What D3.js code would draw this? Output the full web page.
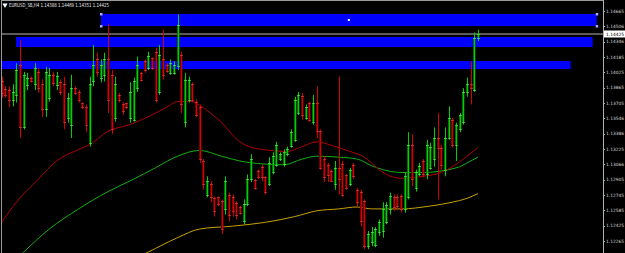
<!DOCTYPE html>
<html lang="en">
<head>
    <meta charset="UTF-8">
    <title>EURUSD_SB,H4</title>
    <script src="https://d3js.org/d3.v7.min.js"></script>
    <style>
        body { margin: 0; background: #000; }
        .axis-label { font-family: "DejaVu Sans", sans-serif; font-size: 4.4px; fill: #d8d8d8; }
        .title { font-family: "DejaVu Sans", sans-serif; font-size: 5.5px; fill: #e8e8e8; }
    </style>
</head>
<body>
    <div id="chart"></div>

    <script>
        // H4 bars (oldest first)
        const opens = [1.1393,1.1385,1.1384,1.1374,1.1379,1.1410,1.1345,1.1389,1.1397,1.1390,1.1403,1.1390,1.1364,1.1376,1.1400,1.1389,1.1392,1.1390,1.1355,1.1348,
            1.1386,1.1382,1.1370,1.1366,1.1329,1.1393,1.1416,1.1397,1.1400,1.1416,1.1400,1.1355,1.1379,1.1369,1.1370,1.1355,1.1353,1.1386,1.1402,1.1414,
            1.1407,1.1417,1.1424,1.1382,1.1416,1.1410,1.1402,1.1402,1.1409,1.1421,1.1351,1.1374,1.1390,1.1372,1.1366,1.1310,1.1275,1.1286,1.1271,1.1272,
            1.1268,1.1260,1.1274,1.1272,1.1266,1.1262,1.1247,1.1265,1.1291,1.1290,1.1300,1.1304,1.1293,1.1286,1.1299,1.1306,1.1312,1.1307,1.1317,1.1326,
            1.1332,1.1360,1.1378,1.1355,1.1370,1.1351,1.1371,1.1341,1.1312,1.1306,1.1300,1.1286,1.1303,1.1307,1.1295,1.1286,1.1306,1.1280,1.1278,1.1268,
            1.1221,1.1225,1.1222,1.1236,1.1237,1.1246,1.1260,1.1272,1.1272,1.1273,1.1260,1.1272,1.1327,1.1282,1.1296,1.1310,1.1296,1.1303,1.1312,1.1334,
            1.1324,1.1301,1.1334,1.1353,1.1327,1.1343,1.1351,1.1382,1.1390,1.1384,1.14388];
        const highs = [1.1398,1.1388,1.1388,1.1390,1.1412,1.1436,1.1403,1.1402,1.1398,1.1412,1.1407,1.1395,1.1408,1.1407,1.1403,1.1403,1.1395,1.1398,1.1381,1.1400,
            1.1388,1.1384,1.1371,1.1369,1.1398,1.1431,1.1423,1.1416,1.1423,1.1453,1.1405,1.1398,1.1381,1.1371,1.1371,1.1392,1.1397,1.1419,1.1403,1.1416,
            1.1424,1.1418,1.1428,1.1431,1.1447,1.1412,1.1416,1.1414,1.1463,1.1424,1.1402,1.1398,1.1392,1.1374,1.1369,1.1312,1.1294,1.1289,1.1273,1.1273,
            1.1270,1.1294,1.1277,1.1275,1.1268,1.1263,1.1270,1.1296,1.1317,1.1291,1.1301,1.1306,1.1294,1.1314,1.1319,1.1330,1.1319,1.1322,1.1325,1.1343,
            1.1377,1.1382,1.1381,1.1369,1.1372,1.1379,1.1388,1.1343,1.1315,1.1308,1.1301,1.1310,1.1398,1.1310,1.1296,1.1303,1.1308,1.1282,1.1280,1.1270,
            1.1237,1.1241,1.1241,1.1249,1.1267,1.1267,1.1277,1.1275,1.1275,1.1275,1.1298,1.1340,1.1338,1.1301,1.1308,1.1312,1.1332,1.1329,1.1345,1.1360,
            1.1327,1.1345,1.1367,1.1355,1.1350,1.1360,1.1386,1.1397,1.1414,1.1444,1.14469];
        const lows = [1.1376,1.1376,1.1366,1.1367,1.1371,1.1334,1.1343,1.1384,1.1392,1.1384,1.1381,1.1356,1.1356,1.1372,1.1388,1.1384,1.1379,1.1343,1.1350,1.1334,
            1.1379,1.1371,1.1364,1.1340,1.1325,1.1388,1.1398,1.1392,1.1393,1.1360,1.1338,1.1351,1.1371,1.1358,1.1364,1.1350,1.1351,1.1382,1.1393,1.1402,
            1.1405,1.1405,1.1371,1.1379,1.1395,1.1402,1.1400,1.1400,1.1405,1.1360,1.1345,1.1371,1.1371,1.1356,1.1308,1.1280,1.1272,1.1267,1.1252,1.1263,
            1.1234,1.1254,1.1247,1.1252,1.1249,1.1254,1.1244,1.1263,1.1288,1.1280,1.1291,1.1289,1.1275,1.1284,1.1296,1.1304,1.1310,1.1304,1.1315,1.1324,
            1.1330,1.1358,1.1353,1.1353,1.1351,1.1348,1.1334,1.1301,1.1288,1.1288,1.1288,1.1280,1.1275,1.1273,1.1280,1.1284,1.1291,1.1263,1.1242,1.1218,
            1.1218,1.1221,1.1220,1.1232,1.1230,1.1244,1.1254,1.1258,1.1260,1.1256,1.1256,1.1270,1.1284,1.1278,1.1294,1.1293,1.1291,1.1301,1.1304,1.1270,
            1.1301,1.1294,1.1332,1.1324,1.1310,1.1340,1.1348,1.1377,1.1369,1.1382,1.14351];
        const closes = [1.1381,1.1379,1.1374,1.1382,1.1405,1.1345,1.1400,1.1397,1.1393,1.1407,1.1386,1.1364,1.1403,1.1400,1.1391,1.1399,1.1382,1.1351,1.1376,1.1386,
            1.1381,1.1374,1.1366,1.1348,1.1390,1.1410,1.1403,1.1410,1.1416,1.1374,1.1343,1.1390,1.1374,1.1362,1.1366,1.1382,1.1393,1.1410,1.1395,1.1405,
            1.1420,1.1407,1.1374,1.1421,1.1400,1.1404,1.1412,1.1410,1.1452,1.1369,1.1395,1.1395,1.1374,1.1358,1.1312,1.1286,1.1289,1.1272,1.1258,1.1265,
            1.1239,1.1289,1.1254,1.1258,1.1254,1.1256,1.1265,1.1291,1.1312,1.1282,1.1293,1.1293,1.1278,1.1308,1.1315,1.1327,1.1317,1.1319,1.1323,1.1340,
            1.1374,1.1379,1.1358,1.1366,1.1353,1.1370,1.1341,1.1303,1.1293,1.1295,1.1289,1.1303,1.1291,1.1275,1.1282,1.1301,1.1294,1.1267,1.1247,1.1221,
            1.1234,1.1236,1.1239,1.1246,1.1260,1.1264,1.1273,1.1262,1.1263,1.1260,1.1294,1.1327,1.1291,1.1299,1.1305,1.1296,1.1327,1.1325,1.1334,1.1324,
            1.1306,1.1334,1.1355,1.1327,1.1348,1.1358,1.1382,1.1390,1.1386,1.1438,1.14425];

        // moving averages, sampled at bar indexes
        const maFastIdx = [0,4,10,15,21,24,29,35,41,45,48,52,54,60,65,71,78,82,86,91,95,99,103,105,109,115,120,123,127,130];
        const maFast = [1.1246,1.1267,1.1291,1.1310,1.1322,1.1327,1.1341,1.1348,1.1358,1.1366,1.1372,1.1372,1.1368,1.1350,1.1330,1.1322,1.1320,1.1325,1.1330,1.1325,
            1.1320,1.1314,1.1301,1.1296,1.1292,1.1294,1.1298,1.1304,1.1315,1.1324];
        const maMidIdx = [3,6,13,21,29,36,42,48,54,60,65,71,77,82,86,92,97,101,104,109,115,122,125,128,130];
        const maMid = [1.1204,1.1215,1.1239,1.1260,1.1278,1.1291,1.1303,1.1315,1.1321,1.1315,1.1310,1.1307,1.1306,1.1312,1.1315,1.1314,1.1312,1.1305,1.1301,1.1298,
            1.1298,1.1301,1.1304,1.1310,1.1314];
        const maSlowIdx = [34,40,48,54,63,72,80,86,92,97,101,109,117,123,127,130];
        const maSlow = [1.1204,1.1215,1.1230,1.1239,1.1242,1.1246,1.1252,1.1258,1.1260,1.1262,1.1260,1.1260,1.1263,1.1267,1.1271,1.1276];

        // rectangles (price band, bar range)
        const zoneTop = [1.14634, 1.14394, 1.14143];
        const zoneBottom = [1.14508, 1.14289, 1.14060];
        const zoneFrom = [27.1, 3.9, -5];
        const zoneTo = [162.4, 161.3, 155.3];

        const priceTicks = [1.14665,1.14506,1.14346,1.14185,1.14025,1.13865,1.13705,1.13546,1.13386,1.13225,1.13066,1.12905,1.12745,1.12585,1.12425,1.12265];
        const lastPrice = 1.14425;
        const title = "EURUSD_SB,H4  1.14388 1.14469 1.14351 1.14425";

        const width = 625, height = 253;
        const plotRight = 603;

        const svg = d3.select("#chart")
            .append("svg")
            .attr("width", width)
            .attr("height", height)
            .style("display", "block")
            .style("background", "#000");

        svg.append("clipPath").attr("id", "plot")
            .append("rect").attr("x", 2).attr("y", 1).attr("width", plotRight - 2).attr("height", height - 1);

        const x = d3.scaleLinear().domain([0, 130]).range([1.7, 478]);
        const y = d3.scaleLinear().domain([1.14665, 1.12265]).range([11, 241]);

        const g = svg.append("g").attr("clip-path", "url(#plot)");

        // blue zones
        g.selectAll(".zone")
            .data(zoneTop.map((t, i) => ({top: t, bottom: zoneBottom[i], from: zoneFrom[i], to: zoneTo[i]})))
            .join("rect")
            .attr("x", d => x(d.from))
            .attr("y", d => y(d.top))
            .attr("width", d => x(d.to) - x(d.from))
            .attr("height", d => y(d.bottom) - y(d.top))
            .attr("fill", "#0000ff");

        // current price line
        g.append("line")
            .attr("x1", 2).attr("x2", plotRight)
            .attr("y1", y(lastPrice)).attr("y2", y(lastPrice))
            .attr("stroke", "#7a7a7a").attr("stroke-width", 1.5);

        // moving averages
        const maLine = idx => d3.line()
            .x((d, i) => x(idx[i]))
            .y(d => y(d))
            .curve(d3.curveMonotoneX);

        [[maSlow, maSlowIdx, "#c8a000"], [maMid, maMidIdx, "#10b010"], [maFast, maFastIdx, "#b00000"]]
            .forEach(([vals, idx, col]) => {
                g.append("path")
                    .datum(vals)
                    .attr("d", maLine(idx))
                    .attr("fill", "none")
                    .attr("stroke", col)
                    .attr("stroke-width", 1);
            });

        // candles
        const bars = opens.map((o, i) => ({i, o, h: highs[i], l: lows[i], c: closes[i], up: closes[i] >= o}));
        const candle = g.selectAll(".candle").data(bars).join("g");

        candle.append("rect")
            .attr("x", d => Math.round(x(d.i)) - 1)
            .attr("width", 2.5)
            .attr("y", d => y(Math.max(d.o, d.c)))
            .attr("height", d => Math.max(1, Math.abs(y(d.o) - y(d.c))))
            .attr("fill", d => d.up ? "#006e00" : "#700000");

        candle.append("line")
            .attr("x1", d => Math.round(x(d.i)) + 0.5)
            .attr("x2", d => Math.round(x(d.i)) + 0.5)
            .attr("y1", d => y(d.h))
            .attr("y2", d => y(d.l))
            .attr("stroke", d => d.up ? "#00d000" : "#d40000")
            .attr("stroke-width", 1);

        // open / close marks
        candle.selectAll(".mark")
            .data(d => [d.o, d.c].map(v => ({v, i: d.i, up: d.up})))
            .join("rect")
            .attr("x", d => Math.round(x(d.i)) - 1)
            .attr("y", d => Math.round(y(d.v)))
            .attr("width", 3)
            .attr("height", 1)
            .attr("fill", d => d.up ? "#60ff60" : "#ff4040")
            .attr("opacity", 0.6);

        // handles on the selected rectangle
        const sel = [[zoneFrom[0], zoneTop[0]], [zoneFrom[0], zoneBottom[0]], [zoneTo[0], zoneTop[0]], [zoneTo[0], zoneBottom[0]]];
        svg.selectAll(".handle").data(sel).join("rect")
            .attr("x", d => x(d[0]) - 1).attr("y", d => y(d[1]) - 1)
            .attr("width", 2.5).attr("height", 2.5)
            .attr("fill", "#a8a8ff");
        svg.append("rect")
            .attr("x", x((zoneFrom[0] + zoneTo[0]) / 2) - 1)
            .attr("y", y((zoneTop[0] + zoneBottom[0]) / 2) - 1)
            .attr("width", 2).attr("height", 2)
            .attr("fill", "#ffffff");

        // frame
        svg.append("line").attr("x1", 1.5).attr("x2", 1.5).attr("y1", 0).attr("y2", height).attr("stroke", "#9a9a9a");
        svg.append("line").attr("x1", 1).attr("x2", plotRight).attr("y1", 0.5).attr("y2", 0.5).attr("stroke", "#9a9a9a");
        svg.append("line").attr("x1", plotRight + 0.5).attr("x2", plotRight + 0.5).attr("y1", 0).attr("y2", height).attr("stroke", "#b0b0b0");

        // price axis
        const ax = svg.append("g");
        ax.selectAll(".tick").data(priceTicks).join("line")
            .attr("x1", plotRight).attr("x2", plotRight + 2)
            .attr("y1", d => Math.round(y(d)) + 0.5).attr("y2", d => Math.round(y(d)) + 0.5)
            .attr("stroke", "#b0b0b0");
        ax.selectAll(".lbl").data(priceTicks).join("text")
            .attr("class", "axis-label")
            .attr("x", plotRight + 3)
            .attr("y", d => y(d) + 1.7)
            .text(d => d.toFixed(5));

        // last price box
        ax.append("rect")
            .attr("x", plotRight + 1).attr("y", y(lastPrice) - 3.5)
            .attr("width", 21).attr("height", 7)
            .attr("fill", "#ffffff");
        ax.append("text")
            .attr("class", "axis-label")
            .attr("x", plotRight + 3)
            .attr("y", y(lastPrice) + 1.7)
            .style("fill", "#000")
            .text(lastPrice.toFixed(5));

        // title
        svg.append("path")
            .attr("d", d3.symbol(d3.symbolTriangle, 12)())
            .attr("transform", "translate(5,5) rotate(180)")
            .attr("fill", "#ffffff");
        svg.append("text")
            .attr("class", "title")
            .attr("x", 9).attr("y", 7)
            .attr("textLength", 100)
            .attr("lengthAdjust", "spacingAndGlyphs")
            .text(title);
    </script>
</body>
</html>
